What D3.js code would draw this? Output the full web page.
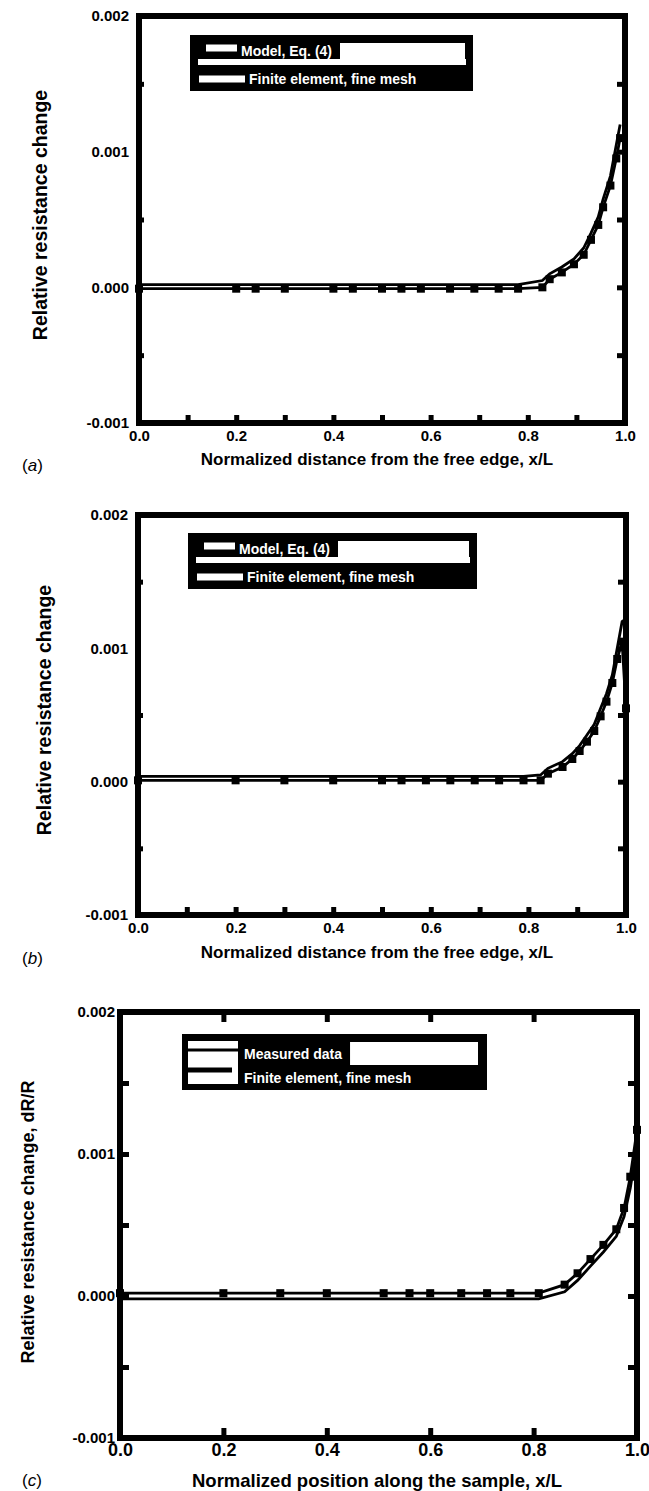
<!DOCTYPE html>
<html>
<head>
<meta charset="utf-8">
<script src="https://cdn.jsdelivr.net/npm/d3@7/dist/d3.min.js"></script>
<style>
  body { margin: 0; background: #fff; }
  svg text { font-family: "Liberation Sans", Arial, sans-serif; }
</style>
</head>
<body>
<svg id="fig" width="649" height="1491"></svg>
<script>
// axis ticks and labels (same for all three panels)
const yTicks = [-1, 0, 1, 2]
const yTickLabels = ['-0.001', '0.000', '0.001', '0.002']
const yMinor = [-0.5, 0.5, 1.5]
const yRight = [-0.5, 0, 0.5, 1, 1.5]
const xTicks = [0, 0.2, 0.4, 0.6, 0.8, 1.0]
const xTickLabels = ['0.0', '0.2', '0.4', '0.6', '0.8', '1.0']
const xMinor = [0.1, 0.2, 0.3, 0.4, 0.5, 0.6, 0.7, 0.8, 0.9]
const xMajorInner = [0.2, 0.4, 0.6, 0.8]

const legendAB = ['Model, Eq. (4)', 'Finite element, fine mesh']
const legendC = ['Measured data', 'Finite element, fine mesh']

// panel (a)
const xA = [0, 0.2, 0.24, 0.3, 0.4, 0.44, 0.5, 0.54, 0.58, 0.64, 0.69, 0.74, 0.78,
  0.83, 0.845, 0.87, 0.895, 0.915, 0.93, 0.945, 0.955, 0.97, 0.982, 0.99]
const a1 = [0.02, 0.02, 0.02, 0.02, 0.02, 0.02, 0.02, 0.02, 0.02, 0.02, 0.02, 0.02, 0.02,
  0.05, 0.10, 0.15, 0.21, 0.29, 0.40, 0.52, 0.65, 0.82, 1.05, 1.20]
const a2 = [-0.01, -0.01, -0.01, -0.01, -0.01, -0.01, -0.01, -0.01, -0.01, -0.01, -0.01, -0.01, -0.01,
  0.00, 0.06, 0.11, 0.17, 0.24, 0.35, 0.46, 0.59, 0.75, 0.95, 1.10]

// panel (b)
const xB = [0, 0.2, 0.3, 0.4, 0.5, 0.54, 0.59, 0.64, 0.69, 0.74, 0.79,
  0.825, 0.84, 0.87, 0.89, 0.905, 0.92, 0.935, 0.948, 0.96, 0.972, 0.982, 0.992, 1.0]
const b1 = [0.04, 0.04, 0.04, 0.04, 0.04, 0.04, 0.04, 0.04, 0.04, 0.04, 0.04,
  0.05, 0.10, 0.15, 0.21, 0.27, 0.35, 0.43, 0.55, 0.66, 0.80, 1.00, 1.20, 1.22]
const b2 = [0.01, 0.01, 0.01, 0.01, 0.01, 0.01, 0.01, 0.01, 0.01, 0.01, 0.01,
  0.01, 0.06, 0.11, 0.17, 0.23, 0.30, 0.38, 0.49, 0.60, 0.74, 0.92, 1.05, 0.55]

// panel (c)
const xC = [0, 0.2, 0.31, 0.4, 0.51, 0.56, 0.6, 0.66, 0.71, 0.755, 0.81,
  0.86, 0.885, 0.91, 0.935, 0.96, 0.975, 0.987, 1.0]
const c1 = [0.02, 0.02, 0.02, 0.02, 0.02, 0.02, 0.02, 0.02, 0.02, 0.02, 0.02,
  0.08, 0.16, 0.26, 0.36, 0.47, 0.62, 0.84, 1.17]
const c2 = [-0.02, -0.02, -0.02, -0.02, -0.02, -0.02, -0.02, -0.02, -0.02, -0.02, -0.02,
  0.03, 0.11, 0.21, 0.31, 0.42, 0.56, 0.76, 1.05]

const panels = [
  { tag: 'a', xs: xA, s1: a1, s2: a2, marks: 2, style: 'ab', legendText: legendAB,
    left: 139, right: 625, top: 16, bottom: 423,
    legend: { x: 190, y: 35, w: 283, h: 56 },
    yTitle: { x: 47, y: 215 }, xTitleY: 465, tagY: 471 },
  { tag: 'b', xs: xB, s1: b1, s2: b2, marks: 2, style: 'ab', legendText: legendAB,
    left: 138, right: 626, top: 515, bottom: 915,
    legend: { x: 188, y: 533, w: 289, h: 56 },
    yTitle: { x: 51, y: 710 }, xTitleY: 958, tagY: 964 },
  { tag: 'c', xs: xC, s1: c1, s2: c2, marks: 1, style: 'c', legendText: legendC,
    left: 120, right: 637, top: 1012, bottom: 1438,
    legend: { x: 182, y: 1034, w: 305, h: 56 },
    yTitle: { x: 34, y: 1222 }, xTitleY: 1487, tagY: 1486 },
]

const svg = d3.select('#fig')

const noDomain = a => a.select('.domain').remove()

function tickAxis(g, axis, values, size, transform) {
  g.append('g')
    .attr('transform', transform)
    .call(axis.tickValues(values).tickSize(-size).tickFormat(''))
    .call(noDomain)
    .selectAll('line')
    .attr('stroke', '#000')
    .attr('stroke-width', 5)
}

function drawPanel(p) {
  const x = d3.scaleLinear().domain([0, 1]).range([p.left, p.right])
  const y = d3.scaleLinear().domain([-1, 2]).range([p.bottom, p.top])
  const g = svg.append('g')

  // inward ticks
  if (p.style === 'ab') {
    tickAxis(g, d3.axisBottom(x), xMinor, 8, `translate(0,${p.bottom})`)
    tickAxis(g, d3.axisRight(y), yRight, 8, `translate(${p.right},0)`)
    tickAxis(g, d3.axisLeft(y), yMinor, 5, `translate(${p.left},0)`)
  } else {
    tickAxis(g, d3.axisBottom(x), xMajorInner, 10, `translate(0,${p.bottom})`)
    tickAxis(g, d3.axisTop(x), xMajorInner, 10, `translate(0,${p.top})`)
    tickAxis(g, d3.axisRight(y), yRight, 9, `translate(${p.right},0)`)
    tickAxis(g, d3.axisLeft(y), yRight, 9, `translate(${p.left},0)`)
  }

  // series
  const line = d3.line().x((d, i) => x(p.xs[i])).y(d => y(d))
  ;[p.s1, p.s2].forEach(s => {
    g.append('path').datum(s).attr('d', line)
      .attr('fill', 'none').attr('stroke', '#000').attr('stroke-width', 2.8)
  })
  const marked = p.marks === 1 ? p.s1 : p.s2
  g.selectAll('rect.mk').data(marked).enter().append('rect')
    .attr('class', 'mk')
    .attr('x', (d, i) => x(p.xs[i]) - 4)
    .attr('y', d => y(d) - 4)
    .attr('width', 8).attr('height', 8)
    .attr('fill', '#000')

  // frame
  g.append('rect')
    .attr('x', p.left).attr('y', p.top)
    .attr('width', p.right - p.left).attr('height', p.bottom - p.top)
    .attr('fill', 'none').attr('stroke', '#000').attr('stroke-width', 6)

  // tick labels
  const yl = g.append('g').attr('transform', `translate(${p.left},0)`)
    .call(d3.axisLeft(y).tickValues(yTicks).tickSize(0)
      .tickPadding(p.style === 'ab' ? 10 : 5)
      .tickFormat((d, i) => yTickLabels[i]))
    .call(noDomain)
  yl.selectAll('text').attr('font-size', 15).attr('font-weight', 'bold')
    .attr('font-family', '"Liberation Sans", Arial, sans-serif').attr('fill', '#000')

  const xl = g.append('g').attr('transform', `translate(0,${p.bottom})`)
    .call(d3.axisBottom(x).tickValues(xTicks).tickSize(0)
      .tickPadding(p.style === 'ab' ? 7 : 5)
      .tickFormat((d, i) => xTickLabels[i]))
    .call(noDomain)
  xl.selectAll('text').attr('font-size', p.style === 'ab' ? 15 : 18).attr('font-weight', 'bold')
    .attr('font-family', '"Liberation Sans", Arial, sans-serif').attr('fill', '#000')

  // axis titles
  g.append('text')
    .attr('transform', `translate(${p.yTitle.x},${p.yTitle.y}) rotate(-90)`)
    .attr('text-anchor', 'middle')
    .attr('font-size', p.style === 'ab' ? 19.5 : 18).attr('font-weight', 'bold')
    .text(p.style === 'ab' ? 'Relative resistance change' : 'Relative resistance change, dR/R')

  g.append('text')
    .attr('x', 377).attr('y', p.xTitleY)
    .attr('text-anchor', 'middle')
    .attr('font-size', p.style === 'ab' ? 17 : 18.5).attr('font-weight', 'bold')
    .text(p.style === 'ab' ? 'Normalized distance from the free edge, x/L'
      : 'Normalized position along the sample, x/L')

  // panel tag
  const t = g.append('text').attr('x', 22).attr('y', p.tagY).attr('font-size', 17)
  t.append('tspan').text('(')
  t.append('tspan').attr('font-style', 'italic').text(p.tag)
  t.append('tspan').text(')')

  drawLegend(p)
}

function drawLegend(p) {
  const L = p.legend
  const g = svg.append('g').attr('font-weight', 'bold').attr('font-size', 14)
  g.append('rect').attr('x', L.x).attr('y', L.y).attr('width', L.w).attr('height', L.h).attr('fill', '#000')

  if (p.style === 'ab') {
    const tx1 = L.x + 51
    const t1 = g.append('text').attr('x', tx1).attr('y', L.y + 21).attr('fill', '#fff').text(p.legendText[0])
    const end1 = tx1 + t1.node().getComputedTextLength() + 8
    g.insert('rect', 'text').attr('x', end1).attr('y', L.y + 8)
      .attr('width', L.x + L.w - 8 - end1).attr('height', 16).attr('fill', '#fff')
    g.insert('rect', 'text').attr('x', L.x + 8).attr('y', L.y + 24)
      .attr('width', L.w - 15).attr('height', 6).attr('fill', '#fff')
    g.append('line').attr('x1', L.x + 16).attr('x2', L.x + 47).attr('y1', L.y + 13).attr('y2', L.y + 13)
      .attr('stroke', '#fff').attr('stroke-width', 7)
    g.append('line').attr('x1', L.x + 9).attr('x2', L.x + 55).attr('y1', L.y + 44).attr('y2', L.y + 44)
      .attr('stroke', '#fff').attr('stroke-width', 7)
    g.append('text').attr('x', L.x + 59).attr('y', L.y + 49).attr('fill', '#fff').text(p.legendText[1])
  } else {
    g.append('rect').attr('x', L.x + 6).attr('y', L.y + 7).attr('width', 50).attr('height', 43).attr('fill', '#fff')
    g.append('line').attr('x1', L.x + 6).attr('x2', L.x + 56).attr('y1', L.y + 16).attr('y2', L.y + 16)
      .attr('stroke', '#000').attr('stroke-width', 3)
    g.append('line').attr('x1', L.x + 6).attr('x2', L.x + 50).attr('y1', L.y + 36).attr('y2', L.y + 36)
      .attr('stroke', '#000').attr('stroke-width', 5)
    const tx1 = L.x + 62
    const t1 = g.append('text').attr('x', tx1).attr('y', L.y + 25).attr('fill', '#fff').text(p.legendText[0])
    const end1 = tx1 + t1.node().getComputedTextLength() + 8
    g.insert('rect', 'text').attr('x', end1).attr('y', L.y + 8)
      .attr('width', L.x + L.w - 9 - end1).attr('height', 23).attr('fill', '#fff')
    g.append('text').attr('x', tx1).attr('y', L.y + 49).attr('fill', '#fff').text(p.legendText[1])
  }
}

panels.forEach(drawPanel)
</script>
</body>
</html>
